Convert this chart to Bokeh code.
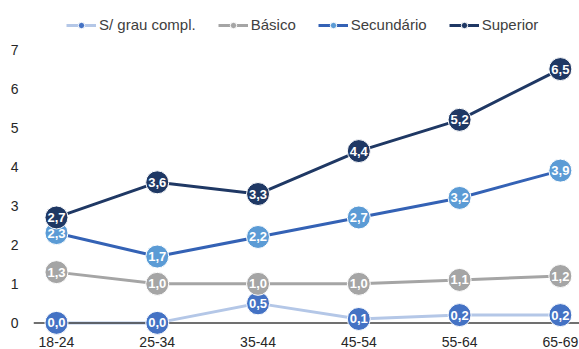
from bokeh.plotting import figure
from bokeh.models import Span, FixedTicker, Legend, LegendItem, ColumnDataSource
from bokeh.embed import file_html
from bokeh.resources import INLINE
from bokeh.core.properties import value

categories = ["18-24", "25-34", "35-44", "45-54", "55-64", "65-69"]
series_names = ["S/ grau compl.", "Básico", "Secundário", "Superior"]
sem_grau = [0.0, 0.0, 0.5, 0.1, 0.2, 0.2]
basico = [1.3, 1.0, 1.0, 1.0, 1.1, 1.2]
secundario = [2.3, 1.7, 2.2, 2.7, 3.2, 3.9]
superior = [2.7, 3.6, 3.3, 4.4, 5.2, 6.5]
y_ticks = [0, 1, 2, 3, 4, 5, 6, 7]

series_values = [sem_grau, basico, secundario, superior]
line_colors = ["#b4c7e7", "#a5a5a5", "#3462b5", "#1f3864"]
marker_colors = ["#4472c4", "#a5a5a5", "#5b9bd5", "#1f3864"]

FONT = "Liberation Sans"

p = figure(width=579, height=349, output_backend="svg", toolbar_location=None,
           x_range=(-0.228, 5.19), y_range=(-0.656, 8.256),
           min_border_left=33, min_border_right=0, min_border_top=0, min_border_bottom=0)
p.outline_line_color = None
p.xgrid.visible = False
p.ygrid.visible = False
p.background_fill_color = "white"
p.border_fill_color = "white"

xs = list(range(len(categories)))

# x axis
p.xaxis.ticker = FixedTicker(ticks=xs)
p.xaxis.major_label_overrides = {i: c for i, c in enumerate(categories)}
p.xaxis.axis_line_color = None
p.xaxis.major_tick_line_color = None
p.xaxis.minor_tick_line_color = None
p.xaxis.major_tick_out = 0
p.xaxis.major_tick_in = 0
p.xaxis.major_label_standoff = -12
p.xaxis.major_label_text_font = FONT
p.xaxis.major_label_text_font_size = "14px"
p.xaxis.major_label_text_color = "#262626"

# y axis
p.yaxis.ticker = FixedTicker(ticks=y_ticks)
p.yaxis.axis_line_color = None
p.yaxis.major_tick_line_color = None
p.yaxis.minor_tick_line_color = None
p.yaxis.major_tick_out = 0
p.yaxis.major_tick_in = 0
p.yaxis.major_label_standoff = 15
p.yaxis.major_label_text_font = FONT
p.yaxis.major_label_text_font_size = "14px"
p.yaxis.major_label_text_color = "#262626"

p.add_layout(Span(location=0, dimension="width", line_color="#404040", line_width=1.5))

items = []
for name, vals, lc, mc in zip(series_names, series_values, line_colors, marker_colors):
    src = ColumnDataSource(dict(x=xs, y=vals,
                                lab=[f"{v:.1f}".replace(".", ",") for v in vals]))
    r1 = p.line("x", "y", source=src, line_color=lc, line_width=3)
    r2 = p.scatter("x", "y", source=src, size=23, fill_color=mc, line_color="white",
                   line_width=1, marker="circle", level="overlay")
    p.text("x", "y", text="lab", source=src, text_color="white", text_font=value(FONT),
           text_font_style="bold", text_font_size="13px", text_align="center",
           text_baseline="middle", level="overlay")
    items.append(LegendItem(label=name, renderers=[r1, r2]))

legend = Legend(items=items, orientation="horizontal", location=(33, 315),
                padding=0, margin=0, spacing=22, glyph_width=30, glyph_height=16,
                label_height=16, label_standoff=3, background_fill_alpha=0,
                border_line_color=None, label_text_font=FONT,
                label_text_font_size="15px", label_text_color="#404040")
p.add_layout(legend)

open("out.html", "w").write(file_html(p, INLINE))
